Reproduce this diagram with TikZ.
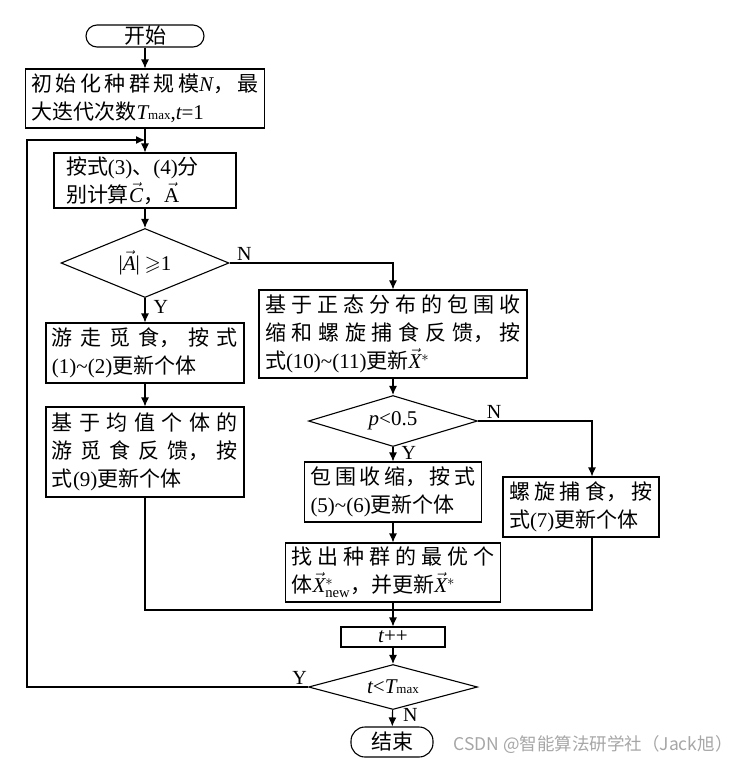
\documentclass[tikz,border=0pt]{standalone}
\usepackage{fix-cm}
\usepackage{amsmath,amssymb}
\usepackage{fontspec}
\setmainfont{Liberation Serif}
\newfontfamily\zh{Noto Sans CJK SC}
\newcommand{\Lat}[1]{{\rmfamily #1}}
\newcommand{\Sym}[1]{{\rmfamily\itshape #1}}
\newcommand{\VSym}[1]{$\vec{\text{\Sym{#1}}}$}
\newcommand{\Tmax}{\Sym{T}{\rmfamily\fontsize{13}{14}\selectfont max}}
\XeTeXlinebreaklocale "zh"
\XeTeXlinebreakskip=0pt plus 3pt
\hbadness=10000
\usetikzlibrary{arrows.meta}
\usetikzlibrary{shapes.geometric}

\begin{document}
\begin{tikzpicture}[x=1pt,y=-1pt,>={Latex[length=9pt,width=8pt]},line width=1.1pt,
      node font=\zh\fontsize{21}{28}\selectfont,
      proc/.style={draw,align=justify,inner xsep=6pt,inner ysep=2pt},
      term/.style={draw,inner sep=0pt},
      test/.style={draw,diamond,inner sep=0pt},
      yn/.style={font=\rmfamily\fontsize{20}{22}\selectfont,inner sep=2pt}]
    \useasboundingbox (0,0) rectangle (755,764);
    \node[term,rounded corners=11pt,minimum width=118pt,minimum height=22pt] (start) at (145,36) {开始};
    \node[proc,text width=227pt,minimum height=59pt] (init) at (145,98.5)
         {初始化种群规模\Sym{N}，最\linebreak 大迭代次数\Tmax\Lat{,}\Sym{t}\Lat{=1}};
    \node[proc,text width=158pt,inner xsep=12pt,minimum height=55pt] (calc) at (145,180.5)
         {按式\Lat{(3)}、\Lat{(4)}分\\ 别计算\VSym{C}，$\vec{\text{\Lat{A}}}$};
    \node[test,aspect=2.43,minimum width=168pt,minimum height=69pt] (cond1) at (145,263)
         {\Lat{|}\VSym{A}\Lat{|} $\geqslant$\Lat{1}};
    \node[proc,text width=186pt,minimum height=60pt] (walk) at (145,353)
         {游走觅食，按式\linebreak \Lat{(1)\textasciitilde(2)}更新个体};
    \node[proc,text width=186pt,minimum height=90pt] (mean) at (145,452)
         {基于均值个体的\linebreak 游觅食反馈，按\linebreak 式\Lat{(9)}更新个体};
    \node[proc,text width=256pt,minimum height=88pt] (normal) at (393,334)
         {基于正态分布的包围收\linebreak 缩和螺旋捕食反馈，按\linebreak 式\Lat{(10)\textasciitilde(11)}更新\VSym{X}$^{*}$};
    \node[test,aspect=3.25,minimum width=169pt,minimum height=51pt] (cond2) at (393,421)
         {\Sym{p}\Lat{<0.5}};
    \node[proc,text width=165pt,minimum height=60pt] (shrink) at (393,492)
         {包围收缩，按式\linebreak \Lat{(5)\textasciitilde(6)}更新个体};
    \node[proc,text width=144pt,minimum height=60pt] (spiral) at (581,507)
         {螺旋捕食，按\linebreak 式\Lat{(7)}更新个体};
    \node[proc,text width=203pt,minimum height=59pt] (best) at (393,572.5)
         {找出种群的最优个\linebreak 体\VSym{X}$^{*}_{\text{\Lat{new}}}$，并更新\VSym{X}$^{*}$};
    \node[term,minimum width=104pt,minimum height=20pt] (incr) at (393,637) {\Sym{t}\Lat{++}};
    \node[test,aspect=3.75,minimum width=169pt,minimum height=45pt] (cond3) at (393,687)
         {\Sym{t}\Lat{<}\Tmax};
    \node[term,rounded corners=14pt,minimum width=82pt,minimum height=30pt] (stop) at (392,742) {结束};
    \node[text=gray!70,font=\zh\fontsize{17.5}{20}\selectfont] (mark) at (593,745)
         {CSDN @智能算法研学社（Jack旭）};

    \coordinate (loop) at (27,140);
    \coordinate (join) at (145,140);
    \coordinate (merge) at (393,610);

    \path[->]
         (start) edge (init)
         (init) edge (calc)
         (calc) edge (cond1)
         (cond1) edge node[yn,right,pos=0.35,xshift=6pt] {Y} (walk)
         (walk) edge (mean)
         (normal) edge (cond2)
         (cond2) edge node[yn,right,pos=0.4,xshift=6pt] {Y} (shrink)
         (shrink) edge (best)
         (best) edge (incr)
         (incr) edge (cond3)
         (cond3) edge node[yn,right,pos=0.3,xshift=8pt] {N} (stop);
    \draw[->] (cond1.east) -| node[yn,above,pos=0.045] {N} (normal.north);
    \draw[->] (cond2.east) -| node[yn,above,pos=0.07] {N} ([xshift=11pt]spiral.north);
    \draw (mean.south) |- (merge) -| ([xshift=11pt]spiral.south);
    \draw[->] (cond3.west) -- node[yn,above,pos=0.03] {Y} (cond3.west -| loop) -- (loop) -- (join);
  \end{tikzpicture}
\end{document}
